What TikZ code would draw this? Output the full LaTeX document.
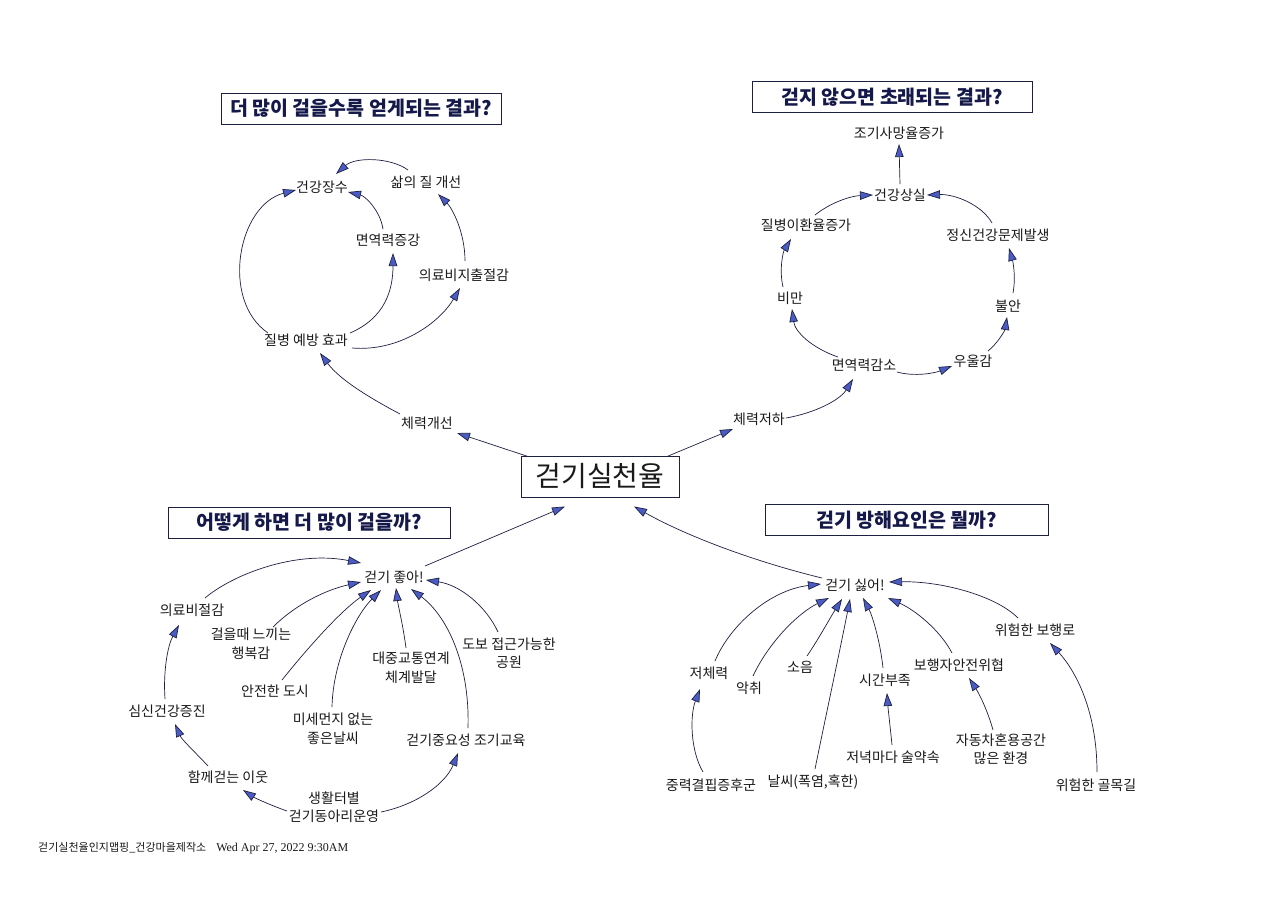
\documentclass[tikz,border=0pt]{standalone}
\usepackage{fontspec}
\setmainfont{Noto Sans CJK KR}
\newfontfamily\lserif{Liberation Serif}
\usetikzlibrary{arrows.meta}
\definecolor{linec}{HTML}{1E2040}
\definecolor{arrowblue}{HTML}{4A5BC4}
\definecolor{titlec}{HTML}{15194A}
\definecolor{labelc}{HTML}{1A1A1A}
\tikzset{
  lbl/.style={font=\fontsize{14}{18.5}\selectfont, text=labelc, inner sep=1pt, align=center},
  ttl/.style={draw=linec, line width=0.9pt, minimum width=280pt, minimum height=31pt, inner sep=0pt,
    font=\fontsize{19.5}{21}\selectfont\bfseries, text=titlec},
  mainbox/.style={draw=linec, line width=0.8pt, minimum width=158pt, minimum height=41pt, inner sep=0pt,
    font=\fontsize{28}{30}\selectfont, text=labelc},
  arr/.style={draw=linec, line width=0.7pt, -{Triangle[length=13pt,width=8.5pt,fill=arrowblue]}},
}
\begin{document}
\begin{tikzpicture}[x=1pt,y=-1pt]
\fill[white] (0,0) rectangle (1280,907);
\useasboundingbox (0,0) rectangle (1280,907);

% ---------- titles ----------
\node[ttl] (tltitle) at (361,108.5) {더 많이 걸을수록 얻게되는 결과?};
\node[ttl] (trtitle) at (892,97) {걷지 않으면 초래되는 결과?};
\node[ttl, minimum width=282pt] (bltitle) at (309,522.5) {어떻게 하면 더 많이 걸을까?};
\node[ttl, minimum width=283pt] (brtitle) at (906.5,520) {걷기 방해요인은 뭘까?};

% ---------- center ----------
\node[mainbox] (cw) at (600,476.5) {걷기실천율};

% ---------- top left ----------
\node[lbl] (gj) at (322,187) {건강장수};
\node[lbl] (sj) at (426,182) {삶의 질 개선};
\node[lbl] (my) at (388,240) {면역력증강};
\node[lbl] (ur) at (464,275) {의료비지출절감};
\node[lbl] (jb) at (306,340) {질병 예방 효과};
\node[lbl] (cg) at (427,423) {체력개선};

% ---------- top right ----------
\node[lbl] (jh) at (899,133) {조기사망율증가};
\node[lbl] (gs) at (900,195) {건강상실};
\node[lbl] (jbh) at (806,225) {질병이환율증가};
\node[lbl] (jsg) at (998,235) {정신건강문제발생};
\node[lbl] (bm) at (790,298) {비만};
\node[lbl] (ba) at (1008,306) {불안};
\node[lbl] (myg) at (864,365) {면역력감소};
\node[lbl] (ug) at (973,361) {우울감};
\node[lbl] (cj) at (759,419) {체력저하};

% ---------- bottom left ----------
\node[lbl] (gj2) at (394,577) {걷기 좋아!};
\node[lbl] (ub) at (192,610) {의료비절감};
\node[lbl] (hb) at (251,644) {걸을때 느끼는\\행복감};
\node[lbl] (aj) at (275,691) {안전한 도시};
\node[lbl] (dj) at (411,668) {대중교통연계\\체계발달};
\node[lbl] (db) at (509,653) {도보 접근가능한\\공원};
\node[lbl] (ss) at (167,711) {심신건강증진};
\node[lbl] (mj) at (333,729) {미세먼지 없는\\좋은날씨};
\node[lbl] (gjy) at (466,740) {걷기중요성 조기교육};
\node[lbl] (hi) at (228,777) {함께걷는 이웃};
\node[lbl] (sh) at (334,807) {생활터별\\걷기동아리운영};

% ---------- bottom right ----------
\node[lbl] (gs2) at (855,585) {걷기 싫어!};
\node[lbl] (wb) at (1035,630) {위험한 보행로};
\node[lbl] (jc) at (709,673) {저체력};
\node[lbl] (ac) at (749,688) {악취};
\node[lbl] (so) at (800,667) {소음};
\node[lbl] (sg) at (885,680) {시간부족};
\node[lbl] (bh) at (959,665) {보행자안전위협};
\node[lbl] (jg) at (711,785) {중력결핍증후군};
\node[lbl] (ns) at (813,782) {날씨(폭염,혹한)};
\node[lbl] (jn) at (893,757) {저녁마다 술약속};
\node[lbl] (jd) at (1001,749) {자동차혼용공간\\많은 환경};
\node[lbl] (wg) at (1096,785) {위험한 골목길};

% ---------- footer ----------
\node[anchor=west, inner sep=0pt, text=labelc] (footer) at (38,848)
  {\fontsize{11}{12}\selectfont 걷기실천율인지맵핑\_건강마을제작소\hspace{10pt}{\lserif\fontsize{12}{14}\selectfont Wed Apr 27, 2022 9:30AM}};

% ---------- connectors: top left ----------
\draw[arr] ([shift={(-38,-7)}]jb.center) .. controls (220,300) and (238,205) .. ([shift={(-26,3)}]gj.center);
\draw[arr] ([shift={(44,-7)}]jb.center) .. controls (385,318) and (393,290) .. ([shift={(5,13)}]my.center);
\draw[arr] ([shift={(-5,-11)}]my.center) .. controls (380,210) and (365,196) .. ([shift={(26,5)}]gj.center);
\draw[arr] ([shift={(46,8)}]jb.center) .. controls (400,352) and (440,322) .. ([shift={(-4,13)}]ur.center);
\draw[arr] ([shift={(1,-14)}]ur.center) .. controls (465,232) and (452,208) .. ([shift={(12,12)}]sj.center);
\draw[arr] ([shift={(-18,-12)}]sj.center) .. controls (390,157) and (355,157) .. ([shift={(14,-13)}]gj.center);
\draw[arr] ([shift={(-27,-9)}]cg.center) .. controls (370,398) and (340,380) .. ([shift={(14,13)}]jb.center);
\draw[arr] ([shift={(-72,-20)}]cw.center) -- ([shift={(30,10)}]cg.center);

% ---------- connectors: top right ----------
\draw[arr] ([shift={(67,-20)}]cw.center) -- ([shift={(-26,10)}]cj.center);
\draw[arr] ([shift={(0,-11)}]gs.center) -- ([shift={(0,11)}]jh.center);
\draw[arr] ([shift={(9,-10)}]jbh.center) .. controls (830,203) and (850,196) .. ([shift={(-27,0)}]gs.center);
\draw[arr] ([shift={(-6,-12)}]jsg.center) .. controls (982,205) and (955,194) .. ([shift={(27,0)}]gs.center);
\draw[arr] ([shift={(-7,-11)}]bm.center) .. controls (779,270) and (783,252) .. ([shift={(-15,14)}]jbh.center);
\draw[arr] ([shift={(5,-13)}]ba.center) .. controls (1016,277) and (1013,262) .. ([shift={(11,13)}]jsg.center);
\draw[arr] ([shift={(-26,-8)}]myg.center) .. controls (812,348) and (795,332) .. ([shift={(2,11)}]bm.center);
\draw[arr] ([shift={(33,7)}]myg.center) .. controls (915,377) and (935,373) .. ([shift={(-21,5)}]ug.center);
\draw[arr] ([shift={(15,-10)}]ug.center) .. controls (998,343) and (1005,330) .. ([shift={(-1,11)}]ba.center);
\draw[arr] ([shift={(27,-1)}]cj.center) .. controls (815,413) and (840,400) .. ([shift={(-11,14)}]myg.center);

% ---------- connectors: to center ----------
\draw[arr] ([shift={(31,-11)}]gj2.center) -- ([shift={(-35,30)}]cw.center);
\draw[arr] ([shift={(-33,-7)}]gs2.center) .. controls (760,563) and (690,538) .. ([shift={(34,30)}]cw.center);

% ---------- connectors: bottom left ----------
\draw[arr] ([shift={(13,-12)}]ub.center) .. controls (232,575) and (295,550) .. ([shift={(-33,-14)}]gj2.center);
\draw[arr] ([shift={(22,-17)}]hb.center) .. controls (295,605) and (325,590) .. ([shift={(-33,5)}]gj2.center);
\draw[arr] ([shift={(7,-11)}]aj.center) .. controls (310,645) and (342,610) .. ([shift={(-23,13)}]gj2.center);
\draw[arr] ([shift={(-1,-22)}]mj.center) .. controls (333,660) and (356,615) .. ([shift={(-13,13)}]gj2.center);
\draw[arr] ([shift={(-5,-20)}]dj.center) .. controls (403,625) and (398,605) .. ([shift={(2,11)}]gj2.center);
\draw[arr] ([shift={(2,-12)}]gjy.center) .. controls (470,662) and (446,615) .. ([shift={(17,12)}]gj2.center);
\draw[arr] ([shift={(-11,-21)}]db.center) .. controls (486,606) and (460,585) .. ([shift={(32,3)}]gj2.center);
\draw[arr] ([shift={(-2,-12)}]ss.center) .. controls (163,670) and (168,645) .. ([shift={(-13,15)}]ub.center);
\draw[arr] ([shift={(-20,-11)}]hi.center) .. controls (195,752) and (182,740) .. ([shift={(8,13)}]ss.center);
\draw[arr] ([shift={(-47,4)}]sh.center) .. controls (270,805) and (255,798) .. ([shift={(15,13)}]hi.center);
\draw[arr] ([shift={(47,5)}]sh.center) .. controls (415,805) and (445,785) .. ([shift={(-8,13)}]gjy.center);

% ---------- connectors: bottom right ----------
\draw[arr] ([shift={(6,-12)}]jc.center) .. controls (730,625) and (770,590) .. ([shift={(-34,-1)}]gs2.center);
\draw[arr] ([shift={(4,-12)}]ac.center) .. controls (770,640) and (800,612) .. ([shift={(-26,13)}]gs2.center);
\draw[arr] ([shift={(7,-11)}]so.center) .. controls (818,640) and (830,618) .. ([shift={(-13,14)}]gs2.center);
\draw[arr] ([shift={(2,-13)}]ns.center) .. controls (826,715) and (840,650) .. ([shift={(-5,14)}]gs2.center);
\draw[arr] ([shift={(-2,-12)}]sg.center) .. controls (880,640) and (872,615) .. ([shift={(8,13)}]gs2.center);
\draw[arr] ([shift={(-7,-12)}]bh.center) .. controls (940,630) and (915,610) .. ([shift={(33,13)}]gs2.center);
\draw[arr] ([shift={(-17,-12)}]wb.center) .. controls (995,595) and (940,581) .. ([shift={(34,-3)}]gs2.center);
\draw[arr] ([shift={(-8,-13)}]jg.center) .. controls (690,750) and (690,715) .. ([shift={(-9,16)}]jc.center);
\draw[arr] ([shift={(-1,-12)}]jn.center) .. controls (890,725) and (888,708) .. ([shift={(2,13)}]sg.center);
\draw[arr] ([shift={(-8,-19)}]jd.center) .. controls (988,712) and (980,695) .. ([shift={(10,13)}]bh.center);
\draw[arr] ([shift={(1,-13)}]wg.center) .. controls (1097,710) and (1075,670) .. ([shift={(15,13)}]wb.center);
\end{tikzpicture}
\end{document}
